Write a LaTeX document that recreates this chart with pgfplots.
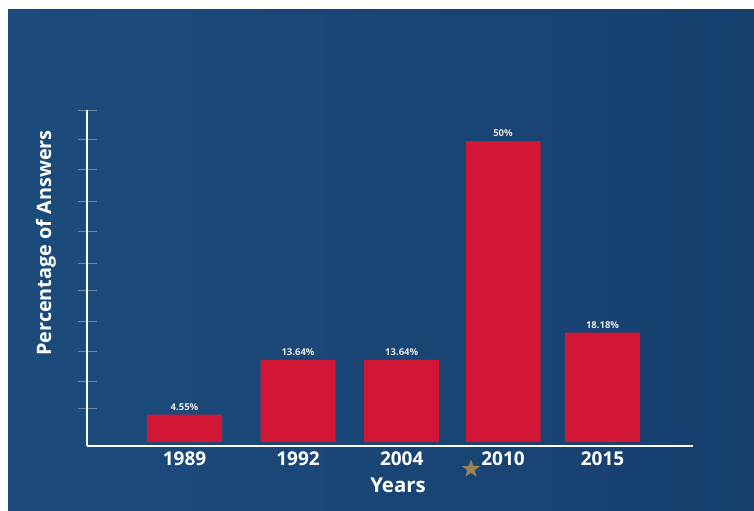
\documentclass[border=0pt]{standalone}
\usepackage{pgfplots}
\pgfplotsset{compat=1.18}
\usepackage{fontspec}
\setmainfont{Open Sans}
\usetikzlibrary{shapes.geometric}
\definecolor{bgL}{RGB}{28,76,124}
\definecolor{bgR}{RGB}{22,63,110}
\definecolor{barred}{RGB}{210,22,54}
\definecolor{lblgray}{RGB}{232,232,232}
\definecolor{stargold}{RGB}{155,132,81}
\begin{document}
\begin{tikzpicture}[x=0.5pt,y=0.5pt]
% picture frame in pixel units: (px, 510-py)
\fill[white] (0,0) rectangle (754,510);
\shade[left color=bgL, right color=bgR] (8,0) rectangle (754,500);
\begin{axis}[
  at={(43.5pt,32pt)}, anchor=south west,
  scale only axis, width=303pt, height=168pt,
  xmin=87, xmax=693, ymin=-0.664, ymax=55.15,
  enlargelimits=false, clip=false,
  axis x line*=bottom, axis y line*=left,
  axis line style={white, line width=1pt, -},
  ybar, bar width=75,
  xtick={184.5,298,401.7,503,602.5},
  xticklabels={1989,1992,2004,2010,2015},
  xtick style={draw=none},
  xticklabel style={font=\bfseries\fontsize{9.5}{10}\selectfont, text=white, inner sep=0pt, anchor=north, yshift=2.25pt},
  ytick={5.5,10,15.1,20.1,25.2,29.7,34.9,39.9,45.3,50.2,55},
  yticklabels={},
  ytick style={draw=white, opacity=0.35, line width=0.5pt},
  major tick length=9.5pt, tick align=center,
  point meta=explicit symbolic,
  nodes near coords,
  nodes near coords style={font=\bfseries\fontsize{4.75}{5}\selectfont, text=lblgray, anchor=south, inner sep=0pt, yshift=2pt},
]
\addplot[fill=barred, draw=none] coordinates {
  (184.5,4.55) [4.55\%]
  (298,13.64) [13.64\%]
  (401.7,13.64) [13.64\%]
  (503,50) [50\%]
  (602.5,18.18) [18.18\%]
};
\end{axis}
\node[text=white, font=\bfseries\fontsize{10.2}{11}\selectfont, inner sep=0pt] at (398,25) {Years};
\node[text=white, font=\bfseries\fontsize{9.9}{11}\selectfont, inner sep=0pt, rotate=90] at (46,267) {Percentage of Answers};
\node[star, star points=5, star point ratio=2.4, fill=stargold, inner sep=0pt, minimum size=9.5pt] at (471,41) {};
\end{tikzpicture}
\end{document}
